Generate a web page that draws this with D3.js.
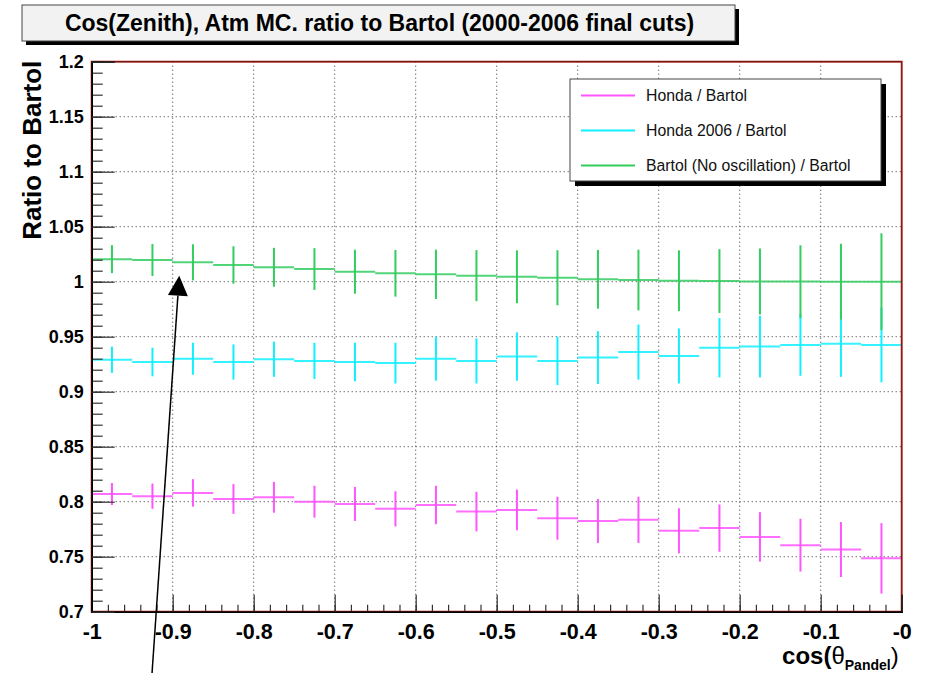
<!DOCTYPE html>
<html>
<head>
<meta charset="utf-8">
<script src="https://cdn.jsdelivr.net/npm/d3@7"></script>
<style>
  html, body { margin: 0; padding: 0; background: #fff; }
  svg { display: block; font-family: "Liberation Sans", Arial, Helvetica, sans-serif; }
</style>
</head>
<body>
<svg id="chart" width="928" height="673"></svg>
<script>
// 20 bins of cos(zenith) from -1 to 0
const binEdges = d3.range(21).map(i => -1 + i * 0.05);

// Honda / Bartol
const hondaRatio = [0.807, 0.805, 0.808, 0.8025, 0.804, 0.800, 0.798, 0.7935, 0.797, 0.791,
                    0.7925, 0.785, 0.7825, 0.7835, 0.7735, 0.776, 0.768, 0.7605, 0.7565, 0.7485];
const hondaErr   = [0.010, 0.0115, 0.0125, 0.0135, 0.014, 0.0145, 0.0155, 0.016, 0.0175, 0.018,
                    0.0185, 0.0195, 0.020, 0.021, 0.0205, 0.0215, 0.0225, 0.024, 0.025, 0.032];

// Honda 2006 / Bartol
const honda06Ratio = [0.929, 0.927, 0.930, 0.927, 0.9295, 0.928, 0.927, 0.926, 0.930, 0.928,
                      0.932, 0.928, 0.931, 0.936, 0.9325, 0.940, 0.941, 0.9425, 0.9435, 0.9425];
const honda06Err   = [0.012, 0.013, 0.0145, 0.016, 0.016, 0.0165, 0.0175, 0.0185, 0.020, 0.0205,
                      0.022, 0.022, 0.024, 0.025, 0.025, 0.027, 0.028, 0.028, 0.030, 0.034];

// Bartol (No oscillation) / Bartol
const bartolRatio = [1.0205, 1.0197, 1.0176, 1.0152, 1.0131, 1.0115, 1.0091, 1.0076, 1.0067, 1.0055,
                     1.0045, 1.0036, 1.0022, 1.0015, 1.0009, 1.0006, 1.0002, 1.0001, 1.0000, 1.0000];
const bartolErr   = [0.0127, 0.0145, 0.0164, 0.017, 0.0177, 0.019, 0.020, 0.0212, 0.0224, 0.0232,
                     0.024, 0.025, 0.0267, 0.0276, 0.0276, 0.029, 0.030, 0.033, 0.0345, 0.044];

const seriesNames  = ["Honda / Bartol", "Honda 2006 / Bartol", "Bartol (No oscillation) / Bartol"];
const seriesColors = ["#ff55ff", "#11f0ff", "#33cc5f"];

const xTickValues = [-1, -0.9, -0.8, -0.7, -0.6, -0.5, -0.4, -0.3, -0.2, -0.1, 0];
const xTickLabels = ["-1", "-0.9", "-0.8", "-0.7", "-0.6", "-0.5", "-0.4", "-0.3", "-0.2", "-0.1", "-0"];
const yTickValues = [0.7, 0.75, 0.8, 0.85, 0.9, 0.95, 1, 1.05, 1.1, 1.15, 1.2];
const yTickLabels = ["0.7", "0.75", "0.8", "0.85", "0.9", "0.95", "1", "1.05", "1.1", "1.15", "1.2"];

const titleText = "Cos(Zenith), Atm MC. ratio to Bartol (2000-2006 final cuts)";
const yTitle = "Ratio to Bartol";

// arrow annotation, in data units: tail, tip
const arrowFrom = [-0.9255, 0.6443];
const arrowTo   = [-0.8919, 1.0055];

// ---------------------------------------------------------------
const svg = d3.select("#chart");
const frame = { left: 91.7, right: 901.7, top: 61.7, bottom: 611.7 };

const x = d3.scaleLinear().domain([-1, 0]).range([frame.left, frame.right]);
const y = d3.scaleLinear().domain([0.7, 1.2]).range([frame.bottom, frame.top]);

const series = [
  { name: seriesNames[0], color: seriesColors[0], values: hondaRatio, errs: hondaErr },
  { name: seriesNames[1], color: seriesColors[1], values: honda06Ratio, errs: honda06Err },
  { name: seriesNames[2], color: seriesColors[2], values: bartolRatio, errs: bartolErr }
];

// dotted grid at major ticks
const grid = svg.append("g").attr("stroke", "#333").attr("stroke-width", 1)
  .attr("stroke-dasharray", "1,3");
grid.selectAll("line.gx").data(xTickValues.slice(1, -1)).join("line")
  .attr("x1", d => x(d)).attr("x2", d => x(d))
  .attr("y1", frame.top).attr("y2", frame.bottom);
grid.selectAll("line.gy").data(yTickValues.slice(1, -1)).join("line")
  .attr("x1", frame.left).attr("x2", frame.right)
  .attr("y1", d => y(d)).attr("y2", d => y(d));

// histograms: horizontal bin segment + vertical error bar
series.forEach(s => {
  const g = svg.append("g").attr("stroke", s.color).attr("stroke-width", 2);
  const bins = s.values.map((v, i) => ({ lo: binEdges[i], hi: binEdges[i + 1], v, e: s.errs[i] }));
  g.selectAll("line.h").data(bins).join("line")
    .attr("x1", d => x(d.lo)).attr("x2", d => x(d.hi))
    .attr("y1", d => y(d.v)).attr("y2", d => y(d.v))
    .attr("stroke-opacity", 0.85);
  g.selectAll("line.v").data(bins).join("line")
    .attr("x1", d => x((d.lo + d.hi) / 2)).attr("x2", d => x((d.lo + d.hi) / 2))
    .attr("y1", d => y(d.v - d.e)).attr("y2", d => y(d.v + d.e));
});

// frame
svg.append("rect")
  .attr("x", frame.left).attr("y", frame.top)
  .attr("width", frame.right - frame.left).attr("height", frame.bottom - frame.top)
  .attr("fill", "none").attr("stroke", "#c8302a").attr("stroke-width", 2);
svg.append("line").attr("x1", frame.left).attr("x2", frame.right)
  .attr("y1", frame.top).attr("y2", frame.top).attr("stroke", "#000").attr("stroke-opacity", 0.55);
svg.append("line").attr("x1", frame.right).attr("x2", frame.right)
  .attr("y1", frame.top).attr("y2", frame.bottom).attr("stroke", "#000").attr("stroke-opacity", 0.45);

// axes: ticks point into the frame
const xAxis = d3.axisTop(x).tickValues(xTickValues).tickSize(17)
  .tickFormat((d, i) => xTickLabels[i]);
const xMinor = d3.axisTop(x).tickValues(d3.range(-1, 0.0001, 0.02)).tickSize(7).tickFormat("");
const yAxis = d3.axisRight(y).tickValues(yTickValues).tickSize(23)
  .tickFormat((d, i) => yTickLabels[i]);
const yMinor = d3.axisRight(y).tickValues(d3.range(0.7, 1.2001, 0.01)).tickSize(11).tickFormat("");

const gxm = svg.append("g").attr("transform", `translate(0,${frame.bottom})`).call(xMinor);
const gx = svg.append("g").attr("transform", `translate(0,${frame.bottom})`).call(xAxis);
const gym = svg.append("g").attr("transform", `translate(${frame.left},0)`).call(yMinor);
const gy = svg.append("g").attr("transform", `translate(${frame.left},0)`).call(yAxis);
[gxm, gx, gym, gy].forEach(g => {
  g.select(".domain").attr("stroke", "#000").attr("stroke-width", 1.5);
  g.selectAll(".tick line").attr("stroke", "#333").attr("stroke-width", 1.2);
});
gx.selectAll(".tick text")
  .attr("y", null).attr("dy", null)
  .attr("transform", "translate(0,27)")
  .attr("font-size", 21.5).attr("font-weight", "bold").attr("fill", "#000");
gy.selectAll(".tick text")
  .attr("x", -8).attr("dy", "0.3em").attr("text-anchor", "end")
  .attr("font-size", 18).attr("font-weight", "bold").attr("fill", "#000");

// axis titles
svg.append("text")
  .attr("transform", `translate(41,${frame.top - 1}) rotate(-90)`)
  .attr("text-anchor", "end")
  .attr("font-size", 26).attr("font-weight", "bold")
  .text(yTitle);

const xt = svg.append("text")
  .attr("x", frame.right - 3).attr("y", 664)
  .attr("text-anchor", "end")
  .attr("font-size", 24).attr("font-weight", "bold");
xt.append("tspan").text("cos(");
xt.append("tspan").attr("font-weight", "normal").text("θ");
xt.append("tspan").attr("font-size", 14).attr("dy", 6).text("Pandel");
xt.append("tspan").attr("font-weight", "normal").attr("dy", -6).text(")");

// title box with shadow
const tb = { x: 22, y: 5, w: 713, h: 36 };
svg.append("rect").attr("x", tb.x + 4).attr("y", tb.y + 4).attr("width", tb.w).attr("height", tb.h)
  .attr("fill", "#000");
svg.append("rect").attr("x", tb.x).attr("y", tb.y).attr("width", tb.w).attr("height", tb.h)
  .attr("fill", "#f2f2f2").attr("stroke", "#444").attr("stroke-width", 1);
svg.append("text").attr("x", tb.x + tb.w / 2 + 1).attr("y", tb.y + 26)
  .attr("text-anchor", "middle").attr("font-size", 23).attr("font-weight", "bold")
  .text(titleText);

// legend with shadow
const lg = { x: 570, y: 79, w: 311, h: 102 };
svg.append("rect").attr("x", lg.x + 5).attr("y", lg.y + 5).attr("width", lg.w).attr("height", lg.h)
  .attr("fill", "#000");
svg.append("rect").attr("x", lg.x).attr("y", lg.y).attr("width", lg.w).attr("height", lg.h)
  .attr("fill", "#fff").attr("stroke", "#444").attr("stroke-width", 1);
const rowY = [95.5, 130.5, 165.5];
series.forEach((s, i) => {
  svg.append("line").attr("x1", lg.x + 11).attr("x2", lg.x + 65)
    .attr("y1", rowY[i]).attr("y2", rowY[i])
    .attr("stroke", s.color).attr("stroke-width", 2);
  svg.append("text").attr("x", lg.x + 76).attr("y", rowY[i] + 5.5)
    .attr("font-size", 15.8).attr("fill", "#111").text(s.name);
});

// arrow annotation
const ax0 = x(arrowFrom[0]), ay0 = y(arrowFrom[1]);
const ax1 = x(arrowTo[0]), ay1 = y(arrowTo[1]);
const ang = Math.atan2(ay1 - ay0, ax1 - ax0);
const headLen = 20, headHalf = 10;
const bx = ax1 - headLen * Math.cos(ang), by = ay1 - headLen * Math.sin(ang);
svg.append("line").attr("x1", ax0).attr("y1", ay0).attr("x2", bx).attr("y2", by)
  .attr("stroke", "#000").attr("stroke-width", 1.5);
svg.append("polygon")
  .attr("points", [
    [ax1, ay1],
    [bx + headHalf * Math.sin(ang), by - headHalf * Math.cos(ang)],
    [bx - headHalf * Math.sin(ang), by + headHalf * Math.cos(ang)]
  ].map(p => p.join(",")).join(" "))
  .attr("fill", "#000");
</script>
</body>
</html>
